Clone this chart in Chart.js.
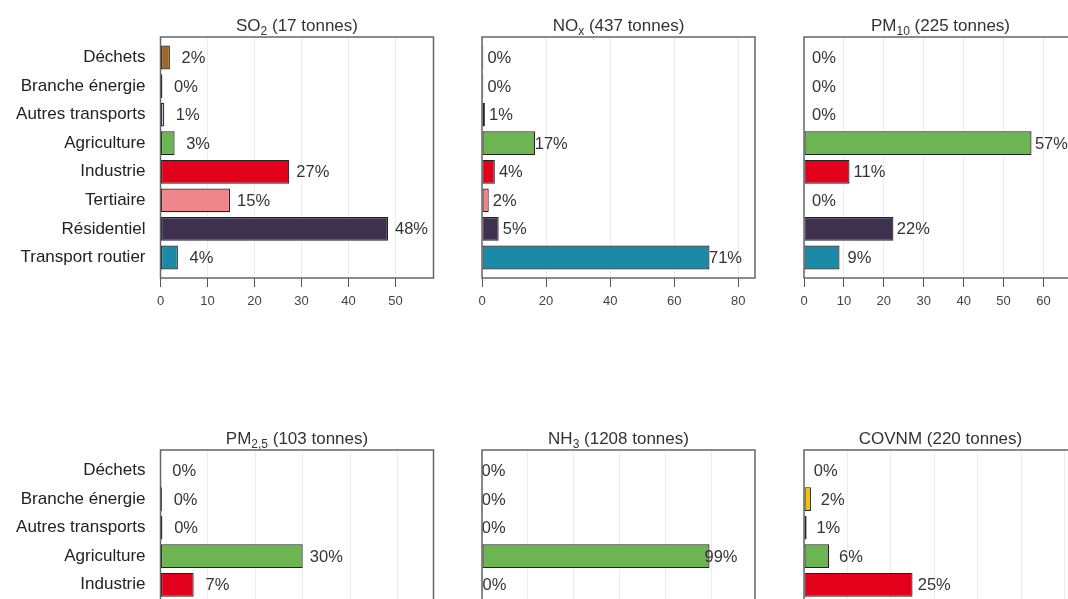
<!DOCTYPE html>
<html>
<head>
<meta charset="utf-8">
<script src="https://cdn.jsdelivr.net/npm/chart.js@4"></script>
<style>
body { margin: 0; background: #fff; }
#wrap { position: relative; width: 1068px; height: 599px; overflow: hidden; }
canvas { position: absolute; }
</style>
</head>
<body>
<div id="wrap"></div>
<script>
// categories, top to bottom
const categories = ['Déchets', 'Branche énergie', 'Autres transports', 'Agriculture', 'Industrie', 'Tertiaire', 'Résidentiel', 'Transport routier'];
const barColors = ['#a0652a', '#f2c200', '#b4c8dc', '#6cb552', '#e3001b', '#f0868c', '#3e3150', '#1b8aa6'];

// shares in % per pollutant
const so2  = [2.0, 0.4, 0.8, 3.0, 27.4, 14.8, 48.4, 3.7];
const nox  = [0.4, 0.4, 0.9, 16.6, 4.0, 2.1, 5.2, 71.0];
const pm10 = [0, 0, 0, 57.0, 11.4, 0, 22.4, 8.9];
const pm25 = [0, 0.3, 0.4, 30.0, 7.0, 0, 48.0, 14.3];
const nh3  = [0, 0.1, 0.1, 99.2, 0.4, 0, 0.1, 0.1];
const covnm = [0, 1.6, 0.6, 5.8, 25.0, 7.0, 52.4, 7.6];

// titles: [main, subscript, rest]
const titles = [
  ['SO', '2', ' (17 tonnes)'],
  ['NO', 'x', ' (437 tonnes)'],
  ['PM', '10', ' (225 tonnes)'],
  ['PM', '2,5', ' (103 tonnes)'],
  ['NH', '3', ' (1208 tonnes)'],
  ['COVNM', '', ' (220 tonnes)']
];
const steps = [10, 20, 10, 10, 20, 10];
const series = [so2, nox, pm10, pm25, nh3, covnm];

const FONT = "'Liberation Sans', Arial, sans-serif";
Chart.defaults.font.family = FONT;

const canvasLeft = [0, 440, 762];
const canvasWidth = [440, 322, 322];
const boxLeft = [160.5, 482, 804];
const boxWidth = 273;

const framePlugin = {
  id: 'frame',
  afterDatasetsDraw(chart) {
    const c = chart.ctx, a = chart.chartArea;
    const vals = chart.data.datasets[0].values;
    const xs = chart.scales.x, ys = chart.scales.y;
    // percentage labels
    c.save();
    c.font = '16.5px ' + FONT;
    c.fillStyle = '#333';
    c.textAlign = 'center';
    c.textBaseline = 'middle';
    vals.forEach((v, k) => {
      c.fillText(Math.round(v) + '%', xs.getPixelForValue(v + 5), ys.getPixelForValue(k + 1) + 1);
    });
    // box
    c.strokeStyle = '#666';
    c.lineWidth = 1.5;
    c.strokeRect(a.left, a.top, a.right - a.left, a.bottom - a.top);
    // title with subscript
    const t = chart.data.datasets[0].title;
    const big = '17px ' + FONT, small = '12px ' + FONT;
    c.font = big; const w1 = c.measureText(t[0]).width, w3 = c.measureText(t[2]).width;
    c.font = small; const w2 = c.measureText(t[1]).width;
    let x = (a.left + a.right) / 2 - (w1 + w2 + w3) / 2;
    const y = a.top - 6;
    c.textAlign = 'left';
    c.textBaseline = 'alphabetic';
    c.fillStyle = '#333';
    c.font = big; c.fillText(t[0], x, y); x += w1;
    c.font = small; c.fillText(t[1], x, y + 4); x += w2;
    c.font = big; c.fillText(t[2], x, y);
    c.restore();
  }
};

const wrap = document.getElementById('wrap');
series.forEach((vals, i) => {
  const row = Math.floor(i / 3), col = i % 3;
  const cv = document.createElement('canvas');
  cv.width = canvasWidth[col];
  cv.height = 330;
  cv.style.left = canvasLeft[col] + 'px';
  cv.style.top = (row * 413) + 'px';
  wrap.appendChild(cv);
  const yw = boxLeft[col] - canvasLeft[col];

  new Chart(cv, {
    type: 'bar',
    data: {
      datasets: [{
        data: vals.map((v, k) => ({ x: v, y: k + 1 })),
        values: vals,
        title: titles[i],
        backgroundColor: barColors,
        borderColor: '#222',
        borderWidth: 1.2,
        borderSkipped: false,
        barPercentage: 0.833,
        categoryPercentage: 1
      }]
    },
    options: {
      indexAxis: 'y',
      responsive: false,
      animation: false,
      layout: { padding: { top: 37, right: canvasWidth[col] - yw - boxWidth, bottom: 0, left: 0 } },
      plugins: { legend: { display: false }, tooltip: { enabled: false }, title: { display: false } },
      scales: {
        x: {
          type: 'linear',
          min: 0,
          max: Math.max(...vals) * 1.2,
          afterFit: (axis) => { axis.height = 52; },
          border: { display: false },
          grid: { color: '#ececec', tickColor: '#555', tickLength: 9, lineWidth: 1 },
          ticks: { stepSize: steps[i], includeBounds: false, font: { size: 13 }, color: '#444', padding: 7 }
        },
        y: {
          type: 'linear',
          min: 0.2825,
          max: 8.7175,
          offset: false,
          reverse: true,
          afterFit: (axis) => { axis.width = yw; },
          afterBuildTicks: (axis) => { axis.ticks = categories.map((c, k) => ({ value: k + 1 })); },
          border: { display: false },
          grid: { display: false, drawTicks: false, offset: false },
          ticks: {
            display: col === 0,
            autoSkip: false,
            padding: 15,
            font: { size: 17 },
            color: '#222',
            callback: (v) => categories[v - 1]
          }
        }
      }
    },
    plugins: [framePlugin]
  });
});
</script>
</body>
</html>
